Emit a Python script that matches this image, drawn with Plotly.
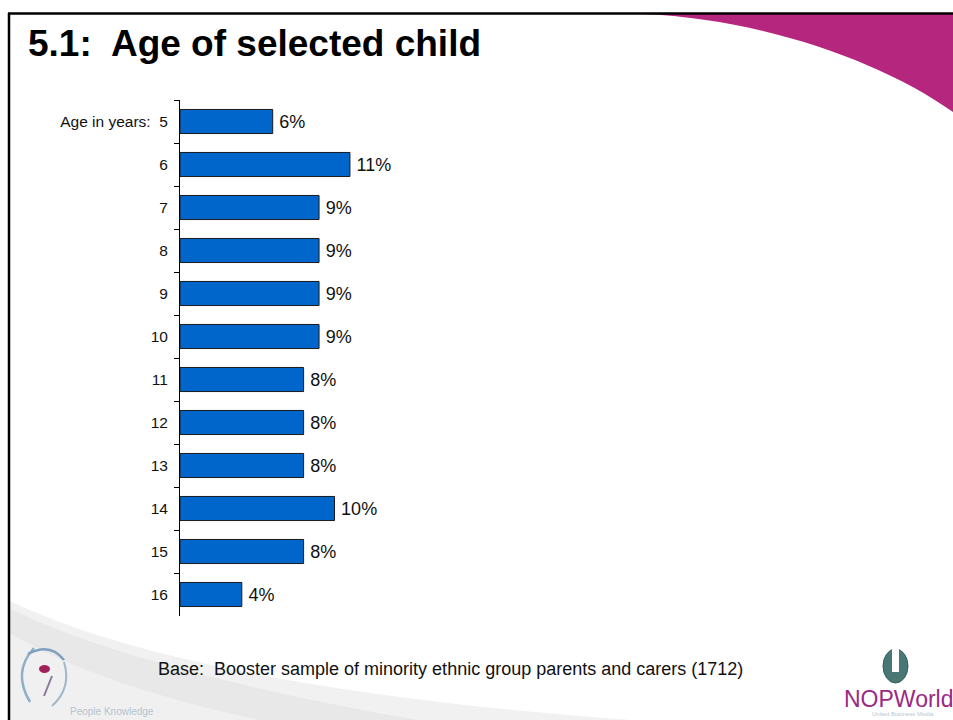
import plotly.graph_objects as go

# Age of the selected child (share of booster sample, %)
ages = ["Age in years:\u00a0 5", "6", "7", "8", "9", "10", "11", "12", "13", "14", "15", "16"]
shares = [6, 11, 9, 9, 9, 9, 8, 8, 8, 10, 8, 4]

title_text = "5.1:\u00a0 Age of selected child"
base_text = "Base:\u00a0 Booster sample of minority ethnic group parents and carers (1712)"

W, H = 953, 720
FONT = "Liberation Sans, Arial, sans-serif"


def px(x):
    return x / W


def py(y):
    return 1 - y / H


def path(points_cmds):
    """Build an SVG path in paper coordinates from pixel-space commands."""
    out = []
    for cmd, pts in points_cmds:
        coords = " ".join(f"{px(x):.5f},{py(y):.5f}" for x, y in pts)
        out.append(f"{cmd} {coords}")
    return " ".join(out) + " Z"


fig = go.Figure()

fig.add_trace(go.Bar(
    x=shares,
    y=ages,
    orientation="h",
    marker=dict(color="#0066CC", line=dict(color="#1a1a1a", width=1)),
    text=[f"\u2009{v}%" for v in shares],
    textposition="outside",
    textfont=dict(family=FONT, size=18, color="#111111"),
    constraintext="none",
    cliponaxis=False,
    hoverinfo="skip",
))

shapes = [
    # magenta swoosh, top right
    dict(type="path", xref="paper", yref="paper", layer="below",
         path=path([("M", [(643, 14)]),
                    ("C", [(760, 19), (880, 60), (953, 112)]),
                    ("L", [(953, 14)])]),
         fillcolor="#B5267E", line=dict(width=0)),
    # grey swoosh, bottom left (soft tones)
    dict(type="path", xref="paper", yref="paper", layer="below",
         path=path([("M", [(8, 600)]),
                    ("C", [(120, 655), (330, 700), (660, 722)]),
                    ("L", [(8, 722)])]),
         fillcolor="#f1f1f1", line=dict(width=0)),
    dict(type="path", xref="paper", yref="paper", layer="below",
         path=path([("M", [(8, 608)]),
                    ("C", [(90, 648), (230, 688), (430, 722)]),
                    ("L", [(8, 722)])]),
         fillcolor="#e8e8e8", line=dict(width=0)),
    dict(type="path", xref="paper", yref="paper", layer="below",
         path=path([("M", [(8, 632)]),
                    ("C", [(60, 664), (150, 698), (270, 722)]),
                    ("L", [(8, 722)])]),
         fillcolor="#f0f0f0", line=dict(width=0)),
    # slide frame
    dict(type="line", xref="paper", yref="paper",
         x0=px(8), x1=1, y0=py(13.5), y1=py(13.5),
         line=dict(color="black", width=2.5)),
    dict(type="line", xref="paper", yref="paper",
         x0=px(9), x1=px(9), y0=py(13), y1=0,
         line=dict(color="black", width=2.5)),
    # people-knowledge emblem
    dict(type="path", xref="paper", yref="paper",
         path=f"M {px(34):.5f},{py(648):.5f} Q {px(12):.5f},{py(672):.5f} {px(30):.5f},{py(702):.5f}",
         line=dict(color="#8fb0c8", width=2.5)),
    dict(type="path", xref="paper", yref="paper",
         path=f"M {px(28):.5f},{py(654):.5f} Q {px(50):.5f},{py(642):.5f} {px(64):.5f},{py(660):.5f}",
         line=dict(color="#7f9fbf", width=2.5)),
    dict(type="path", xref="paper", yref="paper",
         path=f"M {px(64):.5f},{py(662):.5f} Q {px(72):.5f},{py(688):.5f} {px(52):.5f},{py(706):.5f}",
         line=dict(color="#9fb8cc", width=2)),
    dict(type="path", xref="paper", yref="paper",
         path=f"M {px(52):.5f},{py(676):.5f} L {px(44):.5f},{py(696):.5f}",
         line=dict(color="#8a7a9a", width=2)),
    dict(type="circle", xref="paper", yref="paper",
         x0=px(39), x1=px(50), y0=py(673), y1=py(665),
         fillcolor="#a0205a", line=dict(width=0)),
    # globe emblem
    dict(type="circle", xref="paper", yref="paper",
         x0=px(883), x1=px(908), y0=py(683), y1=py(649),
         fillcolor="#4a7676", line=dict(color="#355f5f", width=1)),
    dict(type="rect", xref="paper", yref="paper",
         x0=px(892), x1=px(899), y0=py(672), y1=py(647),
         fillcolor="white", line=dict(width=0)),
]

annotations = [
    dict(text=f"<b>{title_text}</b>", xref="paper", yref="paper",
         x=px(26), y=py(43), xanchor="left", yanchor="middle", showarrow=False,
         font=dict(family=FONT, size=37, color="black")),
    dict(text=base_text, xref="paper", yref="paper",
         x=px(156), y=py(669), xanchor="left", yanchor="middle", showarrow=False,
         font=dict(family=FONT, size=18, color="#111111")),
    dict(text="People Knowledge", xref="paper", yref="paper",
         x=px(68), y=py(711), xanchor="left", yanchor="middle", showarrow=False,
         font=dict(family=FONT, size=10, color="#b4c4cf")),
    dict(text="NOPWorld", xref="paper", yref="paper",
         x=px(842), y=py(699), xanchor="left", yanchor="middle", showarrow=False,
         font=dict(family=FONT, size=23, color="#9a2a86")),
    dict(text="United Business Media", xref="paper", yref="paper",
         x=px(870), y=py(714), xanchor="left", yanchor="middle", showarrow=False,
         font=dict(family=FONT, size=6, color="#b9c6d6")),
]

fig.update_layout(
    width=W, height=H,
    margin=dict(l=0, r=0, t=0, b=0, autoexpand=False),
    paper_bgcolor="white", plot_bgcolor="rgba(0,0,0,0)",
    showlegend=False,
    bargap=0.44,
    shapes=shapes,
    annotations=annotations,
    xaxis=dict(domain=[px(180), px(180 + 15.45 * 40)], range=[0, 40],
               visible=False, fixedrange=True),
    yaxis=dict(domain=[py(616), py(100)], type="category",
               categoryorder="array", categoryarray=ages,
               range=[len(ages) - 0.5, -0.5],
               showline=True, linecolor="black", linewidth=1,
               ticks="outside", tickson="boundaries", ticklen=5,
               tickcolor="black", tickwidth=1,
               tickfont=dict(family=FONT, size=15.5, color="#111111"),
               ticklabelstandoff=8,
               showgrid=False, zeroline=False, automargin=False,
               fixedrange=True),
)

fig.write_html("out.html", config={"displayModeBar": False})
